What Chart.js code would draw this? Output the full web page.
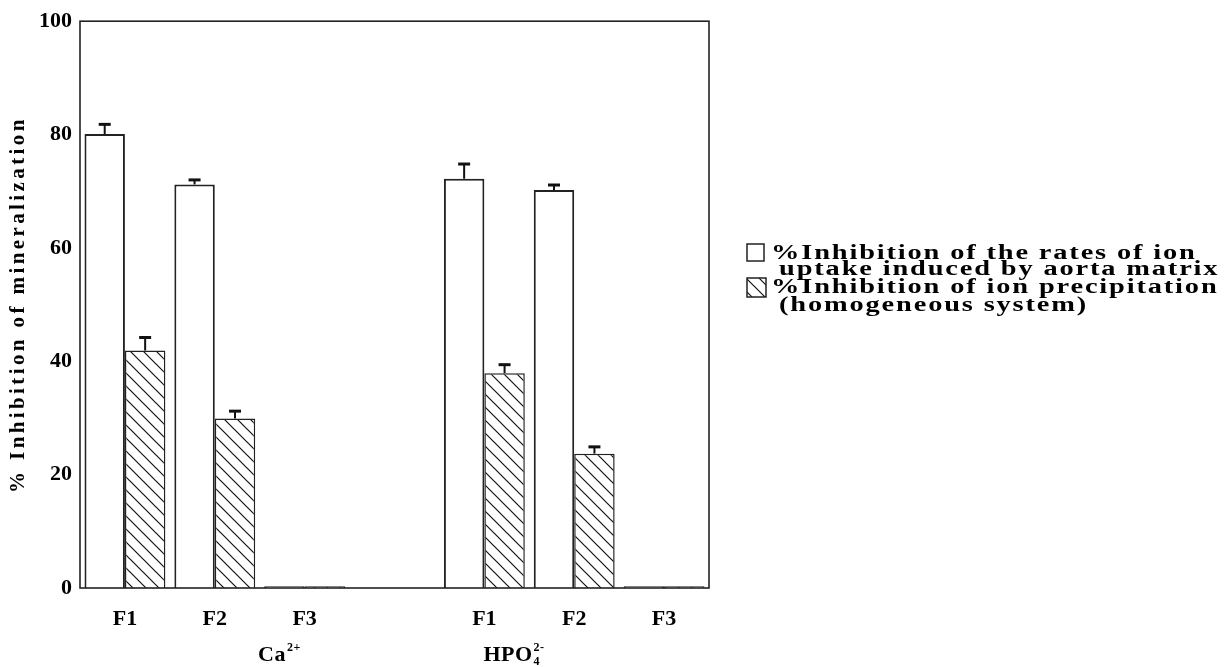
<!DOCTYPE html>
<html><head><meta charset="utf-8">
<script src="https://cdn.jsdelivr.net/npm/chart.js@4/dist/chart.umd.min.js"></script>
<style>html,body{margin:0;padding:0;background:#fff}#wrap{width:1230px;height:667px;position:relative}</style>
</head><body><div id="wrap"><canvas id="c" width="1230" height="667"></canvas></div>
<script>
const categories = ['F1', 'F2', 'F3', '', 'F1', 'F2', 'F3'];
const uptakeValues = [80.1, 71.2, 0.3, null, 72.2, 70.2, 0.3];
const uptakeErrors = [1.7, 0.8, null, null, 2.6, 0.9, null];
const precipValues = [41.9, 29.9, 0.3, null, 37.9, 23.7, 0.3];
const precipErrors = [2.3, 1.3, null, null, 1.5, 1.2, null];
const yTicks = [0, 20, 40, 60, 80, 100];
const yTitle = '% Inhibition of mineralization';
const groupNames = [{base: 'Ca', sup: '2+', sub: ''}, {base: 'HPO', sup: '2-', sub: '4'}];
const legendTexts = [
  ['%Inhibition of the rates of ion', 'uptake induced by aorta matrix'],
  ['%Inhibition of ion precipitation', '(homogeneous system)']
];

const SERIF = '"Liberation Serif", "DejaVu Serif", serif';
const canvas = document.getElementById('c');
const ctx = canvas.getContext('2d');

function makeHatch() {
  const s = 13;
  const c = document.createElement('canvas');
  c.width = s; c.height = s;
  const g = c.getContext('2d');
  g.fillStyle = '#fff'; g.fillRect(0, 0, s, s);
  g.strokeStyle = '#111'; g.lineWidth = 1.2;
  g.beginPath();
  g.moveTo(0, 0); g.lineTo(s, s);
  g.moveTo(-3, s - 3); g.lineTo(3, s + 3);
  g.moveTo(s - 3, -3); g.lineTo(s + 3, 3);
  g.stroke();
  return ctx.createPattern(c, 'repeat');
}
const hatch = makeHatch();

const boxPlugin = {
  id: 'box',
  beforeDraw(chart) { chart.ctx.letterSpacing = '0px'; },
  afterDatasetsDraw(chart) {
    const {ctx, chartArea: a} = chart;
    ctx.save();
    ctx.strokeStyle = '#222'; ctx.lineWidth = 1.6;
    ctx.strokeRect(a.left, a.top, a.right - a.left, a.bottom - a.top);
    ctx.restore();
  }
};

const errorPlugin = {
  id: 'errs',
  afterDatasetsDraw(chart) {
    const {ctx} = chart;
    const ys = chart.scales.y;
    const errs = [uptakeErrors, precipErrors];
    const vals = [uptakeValues, precipValues];
    ctx.save();
    ctx.strokeStyle = '#111';
    chart.data.datasets.forEach((ds, di) => {
      const meta = chart.getDatasetMeta(di);
      meta.data.forEach((bar, i) => {
        const e = errs[di][i], v = vals[di][i];
        if (e == null || v == null) return;
        const yTop = ys.getPixelForValue(v + e);
        ctx.lineWidth = 2;
        ctx.beginPath(); ctx.moveTo(bar.x, bar.y); ctx.lineTo(bar.x, yTop); ctx.stroke();
        ctx.lineWidth = 3;
        ctx.beginPath(); ctx.moveTo(bar.x - 6, yTop); ctx.lineTo(bar.x + 6, yTop); ctx.stroke();
      });
    });
    ctx.restore();
  }
};

function drawChem(ctx, cx, baseline, item) {
  const bigF = 'bold 22px ' + SERIF, smallF = 'bold 12px ' + SERIF;
  ctx.font = bigF; const bw = ctx.measureText(item.base).width;
  ctx.font = smallF; const sw = Math.max(ctx.measureText(item.sup).width, ctx.measureText(item.sub).width);
  const x0 = cx - (bw + sw + 1) / 2;
  ctx.textAlign = 'left'; ctx.textBaseline = 'alphabetic';
  ctx.font = bigF; ctx.fillText(item.base, x0, baseline);
  ctx.font = smallF;
  ctx.fillText(item.sup, x0 + bw + 1, baseline - 10);
  if (item.sub) ctx.fillText(item.sub, x0 + bw + 1, baseline + 4);
}

function stretchedText(ctx, text, x, y, sx) {
  ctx.save();
  ctx.translate(x, y);
  ctx.scale(sx, 1);
  ctx.fillText(text, 0, 0);
  ctx.restore();
}

const textPlugin = {
  id: 'texts',
  afterDraw(chart) {
    const {ctx, chartArea: a} = chart;
    const xs = chart.scales.x;
    ctx.save();
    ctx.fillStyle = '#000';
    // y-axis title
    ctx.save();
    ctx.translate(19, (a.top + a.bottom) / 2);
    ctx.rotate(-Math.PI / 2);
    ctx.font = 'bold 21px ' + SERIF;
    ctx.letterSpacing = '3.4px';
    ctx.textAlign = 'center'; ctx.textBaseline = 'middle';
    ctx.fillText(yTitle, 0, 0);
    ctx.restore();
    // group labels
    ctx.letterSpacing = '0.5px';
    drawChem(ctx, xs.getPixelForValue(1.72), 661, groupNames[0]);
    drawChem(ctx, xs.getPixelForValue(4.33), 661, groupNames[1]);
    // legend
    const lx = a.right + 38;
    ctx.font = 'bold 20px ' + SERIF;
    ctx.letterSpacing = '1.3px';
    ctx.textAlign = 'left'; ctx.textBaseline = 'alphabetic';
    ctx.lineWidth = 1.5; ctx.strokeStyle = '#222';
    ctx.fillStyle = '#fff';
    ctx.fillRect(lx, 244, 17, 17); ctx.strokeRect(lx, 244, 17, 17);
    ctx.fillStyle = '#000';
    stretchedText(ctx, legendTexts[0][0], lx + 24, 259, 1.42);
    stretchedText(ctx, legendTexts[0][1], lx + 32, 275, 1.42);
    ctx.fillStyle = hatch;
    ctx.fillRect(lx, 278, 19, 19); ctx.strokeRect(lx, 278, 19, 19);
    ctx.fillStyle = '#000';
    stretchedText(ctx, legendTexts[1][0], lx + 24, 293, 1.42);
    stretchedText(ctx, legendTexts[1][1], lx + 32, 311, 1.42);
    ctx.restore();
  }
};

const tickFont = {family: SERIF, size: 22, weight: 'bold'};

new Chart(ctx, {
  type: 'bar',
  data: {
    labels: categories,
    datasets: [
      {label: legendTexts[0].join(' '), data: uptakeValues, backgroundColor: '#fff', borderColor: '#222', borderWidth: 2,
       categoryPercentage: 0.9, barPercentage: 1},
      {label: legendTexts[1].join(' '), data: precipValues, backgroundColor: hatch, borderColor: '#222', borderWidth: 1.5,
       categoryPercentage: 0.9, barPercentage: 1}
    ]
  },
  options: {
    responsive: false, animation: false, devicePixelRatio: 1,
    layout: {padding: {top: 17, right: 521, left: 0, bottom: 0}},
    plugins: {legend: {display: false}, tooltip: {enabled: false}},
    scales: {
      x: {
        grid: {display: false, drawTicks: false}, border: {display: false},
        ticks: {font: tickFont, color: '#000', padding: 18},
        afterFit(s) { s.height = 79; }
      },
      y: {
        min: 0, max: 100,
        afterBuildTicks(s) { s.ticks = yTicks.map(v => ({value: v})); },
        grid: {display: false, drawTicks: false}, border: {display: false},
        ticks: {font: tickFont, color: '#000', padding: 8},
        afterFit(s) { s.width = 80; }
      }
    }
  },
  plugins: [boxPlugin, errorPlugin, textPlugin]
});
</script>
</body></html>
